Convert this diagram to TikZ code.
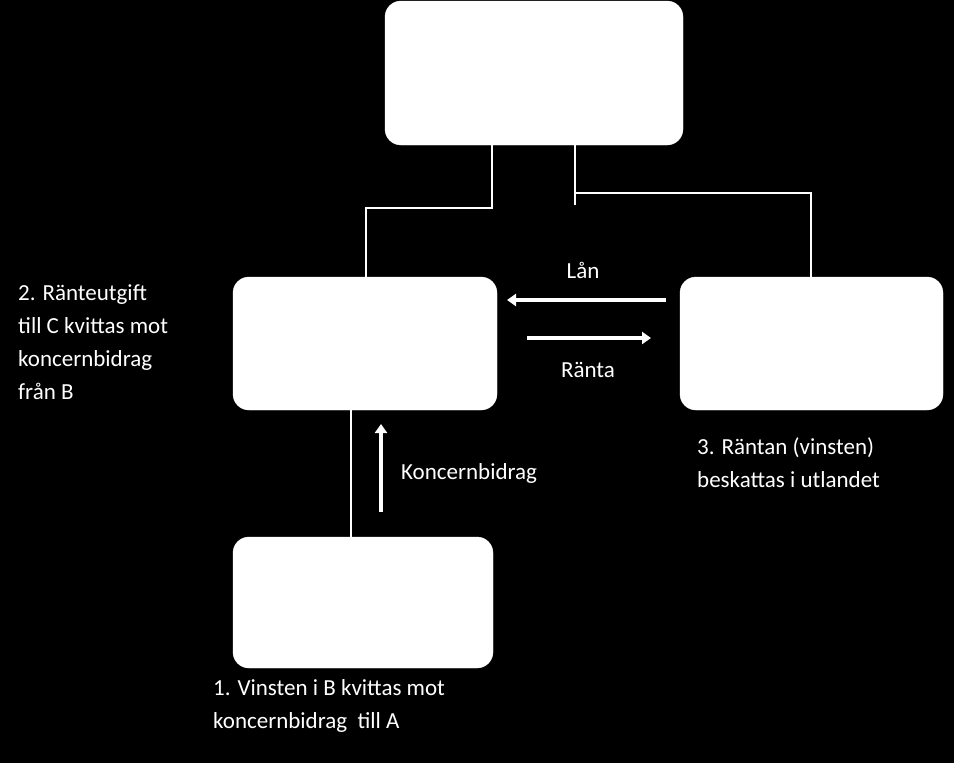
\documentclass[tikz,border=0pt]{standalone}
\usepackage{fontspec}
\setmainfont{Carlito}
\usetikzlibrary{arrows.meta}
\begin{document}
\begin{tikzpicture}[x=1pt,y=-1pt,
  box/.style={draw=white,fill=white,rounded corners=16pt},
  wire/.style={draw=white,line width=1.3pt},
  flow/.style={draw=white,line width=4pt,-{Triangle[length=9pt,width=12pt]}},
  lbl/.style={text=white,font=\fontsize{23}{33}\selectfont,inner sep=0pt,align=left}]
\fill[black] (0,0) rectangle (954,763);
\useasboundingbox (0,0) rectangle (954,763);
\path[box] (385,1) rectangle (683,145);
\path[box] (233,277) rectangle (497,410);
\path[box] (680,277) rectangle (943,410);
\path[box] (233,537) rectangle (493,668);
\node (top) at (534,73) {};
\coordinate (t1) at (492,145); \coordinate (t2) at (575,145);
\coordinate (a) at (366,277); \coordinate (c) at (811,277);
\coordinate (a2) at (351,410); \coordinate (b) at (351,537);
\draw[wire] (t1) -- (492,208) -- (366,208) -- (a);
\draw[wire] (t2) -- (575,193) -- (811,193) -- (c);
\draw[wire] (575,193) -- (575,205);
\draw[wire] (a2) -- (b);
\coordinate (l1) at (666,300); \coordinate (l2) at (507,300);
\coordinate (r1) at (527,338); \coordinate (r2) at (651,338);
\coordinate (k1) at (381,512); \coordinate (k2) at (381,424);
\draw[flow] (l1) -- (l2);
\draw[flow] (r1) -- (r2);
\draw[flow] (k1) -- (k2);
\node[lbl,anchor=center] (lan) at (583,270) {Lån};
\node[lbl,anchor=center] (ranta) at (588,370) {Ränta};
\node[lbl,anchor=west] (kb) at (401,473) {Koncernbidrag};
\node[lbl,anchor=north west] (t2txt) at (18,284) {2. Ränteutgift\\till C kvittas mot\\koncernbidrag\\från B};
\node[lbl,anchor=north west] (t3txt) at (697,437) {3. Räntan (vinsten)\\beskattas i utlandet};
\node[lbl,anchor=north west] (t1txt) at (213,679) {1. Vinsten i B kvittas mot\\koncernbidrag\ \ till A};
\end{tikzpicture}
\end{document}
